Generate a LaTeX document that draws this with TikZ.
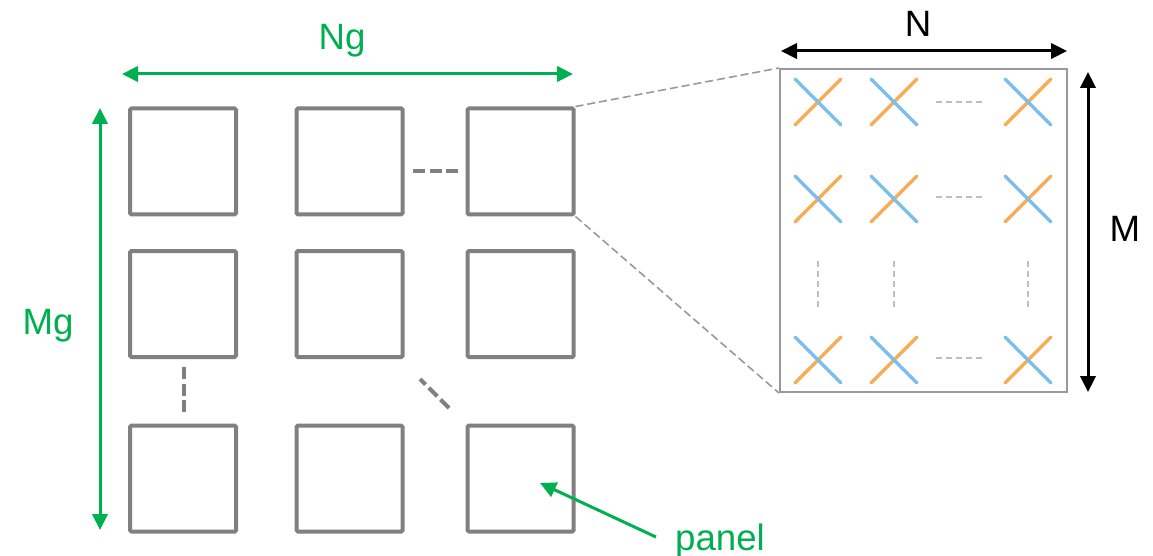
\documentclass[tikz,border=0pt]{standalone}
\usepackage{fontspec}
\setmainfont{Liberation Sans}
\usetikzlibrary{arrows.meta}
\definecolor{gGreen}{HTML}{00B050}
\definecolor{sqGray}{HTML}{808080}
\definecolor{rGray}{HTML}{999999}
\definecolor{lGray}{HTML}{BFBFBF}
\definecolor{xBlue}{HTML}{7DBEEC}
\definecolor{xOrange}{HTML}{F8AD55}
\tikzset{
  sq/.style={draw=sqGray, line width=3pt, rounded corners=1pt, minimum width=79.5pt, minimum height=79.5pt, inner sep=0pt},
  arr/.style={draw=rGray, line width=1.5pt, minimum width=215.25pt, minimum height=242.25pt, inner sep=0pt},
  lbl/.style={font=\fontsize{27.5pt}{30pt}\selectfont, anchor=base, inner sep=0pt},
  garrow/.style={draw=gGreen, line width=2.25pt, {Triangle[length=12pt,width=11.5pt]}-{Triangle[length=12pt,width=11.5pt]}},
  garrowone/.style={draw=gGreen, line width=2.25pt, -{Triangle[length=12pt,width=11.5pt]}},
  karrow/.style={draw=black, line width=2.25pt, {Triangle[length=12pt,width=11.5pt]}-{Triangle[length=12pt,width=11.5pt]}},
  zoomline/.style={draw=rGray, line width=1.2pt, dash pattern=on 6pt off 3pt},
  bigdots/.style={draw=sqGray, line width=3pt, dash pattern=on 9pt off 3.4pt},
  smalldots/.style={draw=lGray, line width=1.3pt, dash pattern=on 4.5pt off 3pt},
  xo/.style={draw=xOrange, line width=2.6pt, line cap=round},
  xb/.style={draw=xBlue, line width=2.6pt, line cap=round},
}
\begin{document}
\begin{tikzpicture}[x=0.75pt, y=-0.75pt]
\useasboundingbox (0,0) rectangle (1153,556);
% panels grid
\node[sq] (s11) at (183,161.5) {};
\node[sq] (s12) at (349.5,161.5) {};
\node[sq] (s13) at (520.5,161.5) {};
\node[sq] (s21) at (183,304) {};
\node[sq] (s22) at (349.5,304) {};
\node[sq] (s23) at (520.5,304) {};
\node[sq] (s31) at (183,478.5) {};
\node[sq] (s32) at (349.5,478.5) {};
\node[sq] (s33) at (520.5,478.5) {};
% ellipsis dashes
\coordinate (h1) at (413,171); \coordinate (h2) at (459,171);
\draw[bigdots] (h1) -- (h2);
\coordinate (v1) at (184,367); \coordinate (v2) at (184,412);
\draw[bigdots] (v1) -- (v2);
\coordinate (d1) at (449,408); \coordinate (d2) at (420,379);
\draw[bigdots] (d1) -- (d2);
% green dimension arrows
\coordinate (ngl) at (122,74); \coordinate (ngr) at (573,74);
\draw[garrow] (ngl) -- (ngr);
\node[lbl, text=gGreen] (ng) at (342,50) {Ng};
\coordinate (mgt) at (100,108); \coordinate (mgb) at (100,530);
\draw[garrow] (mgt) -- (mgb);
\node[lbl, text=gGreen] (mg) at (48,334) {Mg};
% panel label
\node[lbl, text=gGreen] (panel) at (720,550) {panel};
\coordinate (pstart) at (656,537);
\coordinate (ptip) at (540,483);
\draw[garrowone] (pstart) -- (ptip);
% array panel
\node[arr] (array) at (923.5,230.5) {};
\draw[zoomline] (s13.north east) -- (array.north west);
\draw[zoomline] (s13.south east) -- (array.south west);
% N and M arrows
\coordinate (nl) at (781,51); \coordinate (nr) at (1067,51);
\draw[karrow] (nl) -- (nr);
\node[lbl] (N) at (918,37) {N};
\coordinate (mt) at (1088,72); \coordinate (mb) at (1088,392);
\draw[karrow] (mt) -- (mb);
\node[lbl] (M) at (1125,242) {M};
% crosses
\foreach \cx/\cy in {818/102, 894/102, 1028/102, 818/199, 894/199, 1028/199, 818/360, 894/360, 1028/360}{
  \draw[xo] (\cx-23,\cy+23) -- (\cx+23,\cy-23);
  \draw[xb] (\cx-23,\cy-23) -- (\cx+23,\cy+23);
}
% small ellipsis dashes inside array
\foreach \yy in {102,197,358}{
  \draw[smalldots] (936,\yy) -- (983,\yy);
}
\foreach \xx in {818,894,1028}{
  \draw[smalldots] (\xx,261) -- (\xx,308);
}
\end{tikzpicture}
\end{document}
